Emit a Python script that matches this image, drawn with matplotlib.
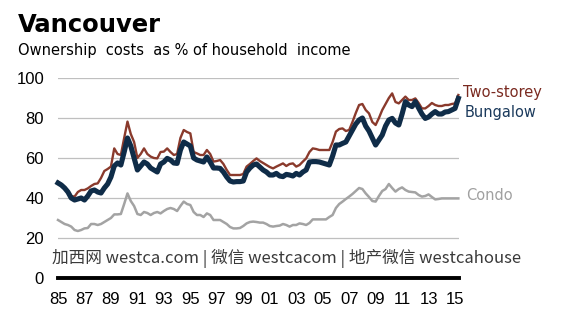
import numpy as np
import matplotlib
matplotlib.use("Agg")
import matplotlib.pyplot as plt

start_year = 1985.0
step = 0.25

two_storey = [
    48.2, 47, 45, 43.5,
    41, 40.7, 43, 44,
    44, 44.8, 46, 47,
    47.3, 50, 53.5, 54.5,
    55.7, 64.8, 62, 61.5,
    70, 78.2, 72, 68,
    60, 62, 64.8, 62,
    60.7, 60, 59.8, 63,
    63.2, 64.8, 63, 61.5,
    62, 70, 74, 73,
    72.3, 63, 62.3, 61.5,
    61.5, 64, 62, 58.2,
    58.5, 59, 57, 54,
    51.5, 51.5, 51.5, 51.5,
    52, 55.7, 57, 58.5,
    59.8, 58.5, 57.5, 56.5,
    55.5, 54.8, 55.7, 56.5,
    57.3, 56, 57, 57.3,
    55.7, 56.5, 58.2, 59.8,
    63, 64.8, 64.5, 64,
    64, 64, 64, 68,
    73.2, 74.5, 74.8, 73.5,
    74, 78, 82.5, 86.5,
    87, 84, 82.3, 78,
    76.5, 80, 84, 87,
    90, 92.3, 88, 87.3,
    89, 90.7, 89, 89,
    89.8, 87.5, 84.8, 84.8,
    86, 87.5, 86.5, 86,
    86, 86.5, 86.5, 87,
    87.3, 91.5,
]

bungalow = [
    47.5, 46.5, 45, 43,
    40, 39, 39.5, 40,
    39, 41, 43.5, 44,
    43, 42.5, 45, 47,
    50.5, 56, 57.5, 56.5,
    63, 70, 66, 60,
    54, 56, 58, 57,
    55, 54, 53, 57,
    58, 59.8, 59, 57.5,
    57.3, 64, 68, 67,
    66, 60, 59, 58.5,
    58, 60.5, 58, 55,
    55, 54.8, 53, 50.5,
    48.5, 48, 48.2, 48.2,
    48.5, 53, 55, 56.5,
    57, 55.5, 54, 53,
    51.5, 51.5, 52.3, 51,
    50.7, 51.8, 51.5, 51,
    52.3, 51.5, 53, 54,
    58, 58.2, 58.2, 58,
    57.5, 57, 56.5, 61,
    66.5, 66.5, 67.3, 68,
    71, 74, 77, 79,
    80, 76, 73.5, 70,
    66.5, 69, 71.5, 76,
    79, 79.8, 77.5, 76.5,
    82, 88.2, 86.5, 85.7,
    88.2, 85, 82, 79.8,
    80.5, 82, 83.2, 82,
    82, 83, 83.2, 84,
    84.8, 89.8,
]

condo = [
    29, 28, 27, 26.5,
    25.7, 24, 23.5, 24,
    24.8, 25, 27, 27,
    26.5, 27, 28, 29,
    30, 31.8, 31.8, 32,
    37, 42.3, 38.5, 36,
    32, 31.5, 33, 32.5,
    31.5, 32.5, 33, 32.3,
    33.5, 34.5, 35, 34.5,
    33.5, 36, 38.2, 37,
    36.5, 33, 31.5, 31.5,
    30.5, 32.3, 31.5, 29,
    29, 29, 28, 27,
    25.5, 24.8, 24.8, 25,
    26, 27.3, 28, 28.2,
    28, 27.7, 27.7, 27,
    26, 25.7, 26, 26.2,
    27, 26.5, 25.7, 26.5,
    26.5, 27.3, 27, 26.5,
    27.5, 29.3, 29.3, 29.3,
    29.3, 29.3, 30.5, 31.5,
    35, 37, 38.2, 39.5,
    40.7, 42, 43.5, 45,
    44.5, 42.3, 40.5, 38.5,
    38.2, 41, 43.5, 44.5,
    47, 45, 43.2, 44.5,
    45.3, 44, 43.2, 43,
    42.8, 41.5, 40.7, 41,
    41.8, 40.5, 39.3, 39.5,
    39.8, 39.8, 39.8, 39.8,
    39.8, 39.8,
]

xtick_years = list(range(1985, 2016, 2))
xtick_labels = ["85", "87", "89", "91", "93", "95", "97", "99", "01", "03", "05", "07", "09", "11", "13", "15"]
yticks = [0, 20, 40, 60, 80, 100]

t = start_year + step * np.arange(len(two_storey))

fig = plt.figure(figsize=(5.74, 3.28), dpi=100)
ax = fig.add_axes([58/574, 50/328, (459-58)/574, 200/328])
ax.set_xlim(1985, 2015.3)
ax.set_ylim(0, 100)

for y in yticks[1:]:
    ax.axhline(y, color="#bfbfbf", lw=0.9, zorder=1)
ax.axhline(0, color="black", lw=2.8, zorder=5, clip_on=False)

ax.plot(t, condo, color="#a3a3a3", lw=1.8, zorder=2, clip_on=False)
ax.plot(t, two_storey, color="#8a3a2c", lw=1.7, zorder=3, clip_on=False)
ax.plot(t, bungalow, color="#0f2c48", lw=3.7, zorder=4, clip_on=False, solid_joinstyle="round")

for s in ax.spines.values():
    s.set_visible(False)
ax.set_xticks(xtick_years)
ax.set_xticklabels(xtick_labels, fontfamily="Liberation Sans", fontsize=12)
ax.set_yticks(yticks)
ax.set_yticklabels([str(v) for v in yticks], fontfamily="Liberation Sans", fontsize=12)
ax.tick_params(axis="both", length=0)
ax.tick_params(axis="y", pad=10)
ax.tick_params(axis="x", pad=10)

fig.text(18/574, 1 - 25/328, "Vancouver", fontsize=17.5, fontweight="bold", family="DejaVu Sans",
         va="center", ha="left", color="black")
fig.text(18/574, 1 - 50/328, "Ownership  costs  as % of household  income", fontsize=10.5,
         family="DejaVu Sans", va="center", ha="left", color="black")

fig.text(463/574, 1 - 92/328, "Two-storey", fontsize=10.5, family="DejaVu Sans", color="#7a2a20", va="center")
fig.text(465/574, 1 - 113/328, "Bungalow", fontsize=10.5, family="DejaVu Sans", color="#1b3a5c", va="center")
fig.text(466/574, 1 - 195/328, "Condo", fontsize=10.5, family="DejaVu Sans", color="#a0a0a0", va="center")

fig.text(52/574, 1 - 258/328, "加西网 westca.com | 微信 westcacom | 地产微信 westcahouse", fontsize=12,
         family=["Noto Sans CJK SC", "DejaVu Sans"], color="#3a3a3a", va="center", ha="left", zorder=10)

fig.savefig("out.png", dpi=100)
